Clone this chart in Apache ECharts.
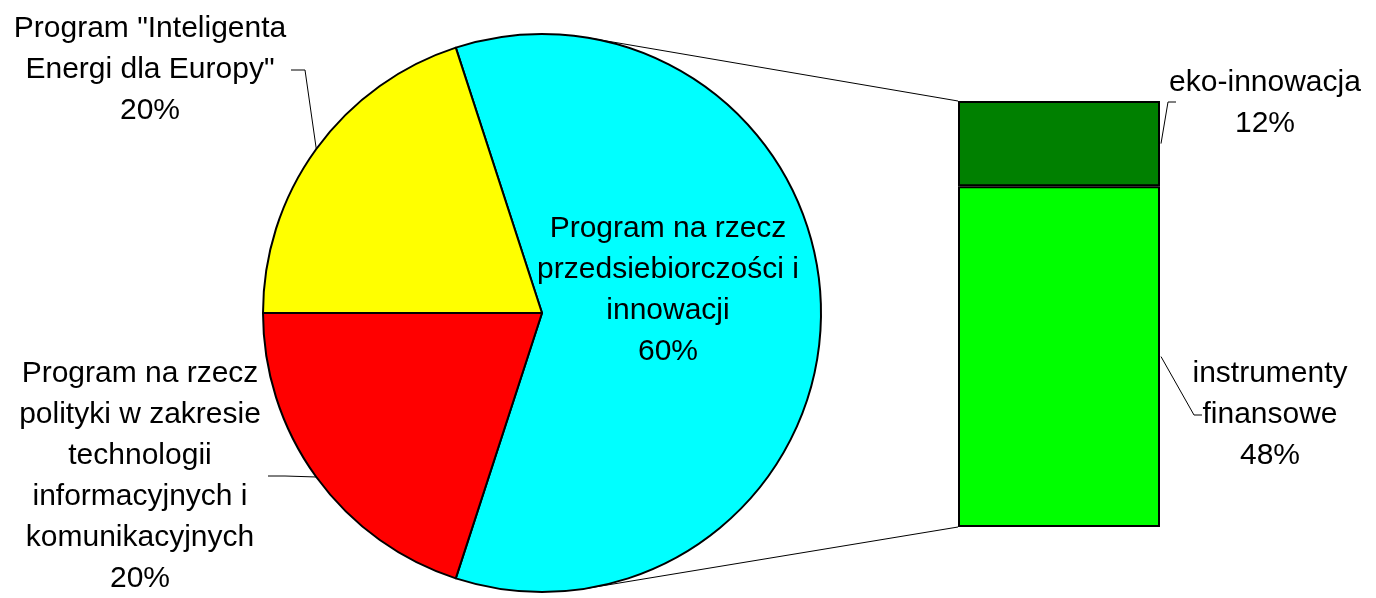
<!DOCTYPE html>
<html>
<head>
<meta charset="utf-8">
<title>Program na rzecz konkurencyjności i innowacji</title>
<script src="https://cdn.jsdelivr.net/npm/echarts@6/dist/echarts.min.js"></script>
<style>
html, body { margin: 0; padding: 0; background: #fff; }
#chart { width: 1376px; height: 598px; }
</style>
</head>
<body>
<div id="chart"></div>
<script>
const pieNames = [
  'Program na rzecz\nprzedsiebiorczości i\ninnowacji',
  'Program na rzecz\npolityki w zakresie\ntechnologii\ninformacyjnych i\nkomunikacyjnych',
  'Program "Inteligenta\nEnergi dla Europy"'
];
const pieValues = [60, 20, 20];
const pieColors = ['#00ffff', '#ff0000', '#ffff00'];

const barNames = ['instrumenty\nfinansowe', 'eko-innowacja'];
const barValues = [48, 12];
const barColors = ['#00ff00', '#008000'];

// geometry
const PIE_CENTER = [542, 313];
const PIE_R = 279;
const START_ANGLE = 108;
const BAR_GRID = { left: 958, right: 216, top: 101, bottom: 71 };

// label centres and leader bends
const pieLabelAt = [
  { x: 668, y: 290 },
  { x: 140, y: 476, bend: [[285, 476], [268, 476]] },
  { x: 150, y: 70, bend: [[305, 70], [291, 70]] }
];
const barLabelAt = [
  { x: 1270, y: 415, bend: [[1194, 415], [1202, 415]] },
  { x: 1265, y: 103, bend: [[1168, 102], [1176, 102]] }
];

const font = {
  color: '#000',
  fontSize: 30,
  lineHeight: 41,
  fontFamily: '"Liberation Sans", Arial, sans-serif'
};
const leader = { color: '#000', width: 1 };

const total = pieValues.reduce((a, b) => a + b, 0);
const barTotal = barValues.reduce((a, b) => a + b, 0);
const rad = (deg) => deg * Math.PI / 180;
function edgePoint(angle) {
  return [PIE_CENTER[0] + PIE_R * Math.cos(rad(angle)), PIE_CENTER[1] - PIE_R * Math.sin(rad(angle))];
}
// mid angle of each slice (clockwise from START_ANGLE)
const midAngles = [];
let acc = 0;
pieValues.forEach((v) => {
  midAngles.push(START_ANGLE - 360 * (acc + v / 2) / total);
  acc += v;
});

const chart = echarts.init(document.getElementById('chart'));

chart.setOption({
  animation: false,
  grid: BAR_GRID,
  xAxis: { type: 'category', data: [''], show: false },
  yAxis: { type: 'value', min: 0, max: barTotal, show: false },
  series: [
    {
      type: 'pie',
      center: PIE_CENTER,
      radius: PIE_R,
      startAngle: START_ANGLE,
      clockwise: true,
      silent: true,
      avoidLabelOverlap: false,
      itemStyle: { borderColor: '#000', borderWidth: 2 },
      label: Object.assign({ formatter: '{b}\n{d}%', align: 'center', overflow: 'none' }, font),
      labelLine: { show: true, lineStyle: leader },
      labelLayout: (p) => {
        const at = pieLabelAt[p.dataIndex];
        const out = { x: at.x, y: at.y, align: 'center', verticalAlign: 'middle' };
        if (at.bend) out.labelLinePoints = [edgePoint(midAngles[p.dataIndex])].concat(at.bend);
        return out;
      },
      data: pieNames.map((name, i) => ({
        name,
        value: pieValues[i],
        itemStyle: { color: pieColors[i] },
        label: i === 0 ? { position: 'inside' } : { position: 'outside' },
        labelLine: { show: i !== 0 }
      }))
    }
  ].concat(barNames.map((name, i) => ({
    type: 'bar',
    name,
    stack: 'share',
    barWidth: '100%',
    silent: true,
    data: [barValues[i]],
    itemStyle: { color: barColors[i], borderColor: '#000', borderWidth: 2 },
    label: Object.assign({
      show: true,
      position: 'right',
      overflow: 'none',
      formatter: (p) => p.seriesName + '\n' + p.value + '%'
    }, font),
    labelLayout: () => {
      const at = barLabelAt[i];
      return { x: at.x, y: at.y, align: 'center', verticalAlign: 'middle' };
    }
  })))
});

// tangent point on the pie seen from an outside point
function tangentPoint(px, py, upper) {
  const dx = px - PIE_CENTER[0];
  const dy = PIE_CENTER[1] - py;
  const d = Math.sqrt(dx * dx + dy * dy);
  const base = Math.atan2(dy, dx) * 180 / Math.PI;
  const off = Math.acos(PIE_R / d) * 180 / Math.PI;
  return edgePoint(upper ? base + off : base - off);
}

// connectors from pie to bar corners, and leaders for the bar labels
const barTop = chart.convertToPixel({ yAxisIndex: 0 }, barTotal);
const barBottom = chart.convertToPixel({ yAxisIndex: 0 }, 0);
const barRight = chart.getWidth() - BAR_GRID.right;
const t1 = tangentPoint(BAR_GRID.left, barTop, true);
const t2 = tangentPoint(BAR_GRID.left, barBottom, false);

const graphics = [
  { type: 'line', z: -1, shape: { x1: t1[0], y1: t1[1], x2: BAR_GRID.left, y2: barTop }, style: { stroke: '#000', lineWidth: 1 } },
  { type: 'line', z: -1, shape: { x1: t2[0], y1: t2[1], x2: BAR_GRID.left, y2: barBottom }, style: { stroke: '#000', lineWidth: 1 } }
];
let lo = 0;
barValues.forEach((v, i) => {
  const yMid = chart.convertToPixel({ yAxisIndex: 0 }, lo + v / 2);
  lo += v;
  graphics.push({
    type: 'polyline',
    shape: { points: [[barRight + 1, yMid]].concat(barLabelAt[i].bend) },
    style: { stroke: '#000', lineWidth: 1, fill: null }
  });
});
chart.setOption({ graphic: graphics });
</script>
</body>
</html>
